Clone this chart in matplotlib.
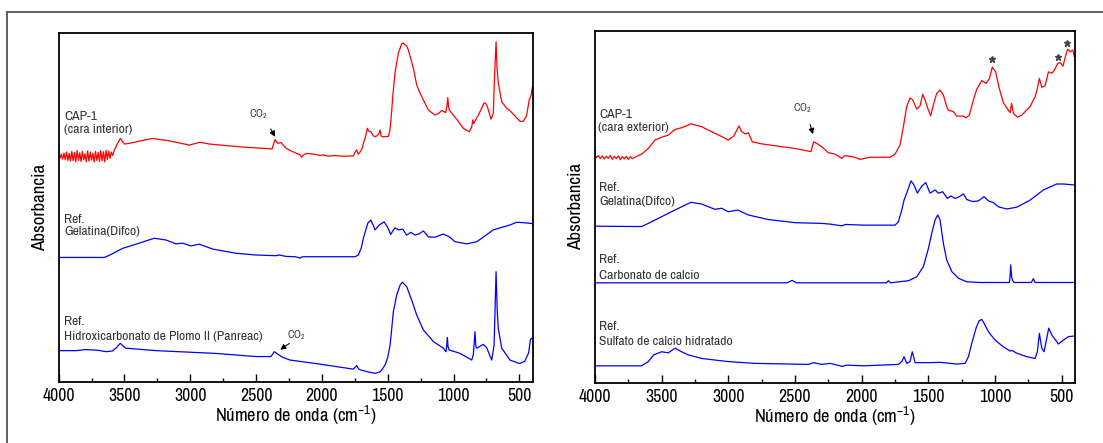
import numpy as np
import matplotlib
matplotlib.use('Agg')
import matplotlib.pyplot as plt
from matplotlib.ticker import MultipleLocator
from matplotlib.lines import Line2D

plt.rcParams['font.family'] = ['Archivo Narrow', 'DejaVu Sans']
plt.rcParams['mathtext.fontset'] = 'custom'
plt.rcParams['mathtext.rm'] = 'Archivo Narrow'

# espectros: (numero de onda, absorbancia relativa)
cap1_interior = [
    (4000, 0.678), (3996, 0.645),
    (3990, 0.640), (3980, 0.652), (3970, 0.638), (3960, 0.655), (3950, 0.636),
    (3940, 0.658), (3930, 0.634), (3920, 0.654), (3910, 0.632), (3900, 0.660),
    (3890, 0.633), (3880, 0.657), (3870, 0.630), (3860, 0.662), (3850, 0.634),
    (3840, 0.656), (3830, 0.631), (3820, 0.660), (3810, 0.636), (3800, 0.653),
    (3790, 0.630), (3780, 0.661), (3770, 0.632), (3760, 0.658), (3750, 0.635),
    (3740, 0.655), (3730, 0.629), (3720, 0.660), (3710, 0.634), (3700, 0.657),
    (3690, 0.631), (3680, 0.662), (3670, 0.633), (3660, 0.659), (3650, 0.630),
    (3640, 0.663), (3630, 0.636), (3620, 0.661), (3610, 0.640), (3600, 0.658),
    (3590, 0.648), (3577, 0.664), (3552, 0.683), (3532, 0.697), (3515, 0.688),
    (3501, 0.681), (3463, 0.683), (3380, 0.690), (3286, 0.697), (3160, 0.690),
    (3008, 0.678), (2926, 0.686), (2856, 0.681), (2628, 0.673), (2379, 0.667),
    (2356, 0.694), (2336, 0.683), (2311, 0.685), (2273, 0.669), (2240, 0.662),
    (2180, 0.652), (2166, 0.650), (2155, 0.643), (2140, 0.650), (2116, 0.654),
    (2060, 0.652), (2010, 0.648), (1989, 0.650), (1950, 0.646), (1900, 0.648),
    (1840, 0.646), (1761, 0.647), (1745, 0.660), (1736, 0.664), (1725, 0.652),
    (1710, 0.658), (1695, 0.668), (1685, 0.683), (1670, 0.700), (1655, 0.726),
    (1645, 0.718), (1629, 0.716), (1610, 0.705), (1597, 0.702), (1580, 0.705),
    (1565, 0.712), (1558, 0.721), (1552, 0.706), (1545, 0.702), (1520, 0.702),
    (1495, 0.703), (1483, 0.721), (1470, 0.775), (1462, 0.817), (1445, 0.884),
    (1420, 0.941), (1394, 0.968), (1381, 0.970), (1356, 0.962), (1343, 0.950),
    (1305, 0.898), (1280, 0.850), (1242, 0.817), (1191, 0.778), (1141, 0.764),
    (1110, 0.770), (1090, 0.777), (1060, 0.771), (1050, 0.790), (1044, 0.814),
    (1038, 0.790), (1032, 0.778), (976, 0.752), (926, 0.726), (880, 0.716),
    (862, 0.730), (854, 0.750), (848, 0.740), (844, 0.742), (811, 0.764),
    (768, 0.799), (755, 0.797), (743, 0.788), (715, 0.752), (698, 0.769),
    (688, 0.880), (677, 0.974), (670, 0.900), (660, 0.855), (634, 0.802),
    (600, 0.785), (570, 0.776), (530, 0.760), (495, 0.746), (470, 0.746),
    (445, 0.762), (425, 0.808), (410, 0.822), (400, 0.846),
]

gelatina_izq = [
    (4000, 0.356), (3653, 0.356), (3600, 0.365), (3514, 0.382), (3413, 0.394),
    (3274, 0.411), (3185, 0.406), (3109, 0.395), (3058, 0.397), (2995, 0.389),
    (2932, 0.394), (2830, 0.380), (2653, 0.368), (2501, 0.363), (2349, 0.361),
    (2324, 0.363), (2273, 0.359), (2200, 0.358), (2166, 0.354), (2150, 0.358),
    (1989, 0.358), (1749, 0.358), (1723, 0.363), (1700, 0.385), (1685, 0.411),
    (1652, 0.454), (1629, 0.463), (1610, 0.448), (1597, 0.435), (1580, 0.442),
    (1564, 0.449), (1528, 0.458), (1503, 0.444), (1477, 0.422), (1460, 0.433),
    (1445, 0.441), (1419, 0.435), (1386, 0.437), (1356, 0.420), (1325, 0.428),
    (1292, 0.420), (1260, 0.424), (1229, 0.432), (1191, 0.415), (1141, 0.414),
    (1078, 0.423), (1027, 0.414), (989, 0.401), (900, 0.395), (824, 0.401),
    (760, 0.418), (698, 0.435), (571, 0.449), (520, 0.457), (450, 0.455),
    (400, 0.453),
]

hidroxicarbonato = [
    (4000, 0.089), (3869, 0.089), (3800, 0.092), (3742, 0.091), (3700, 0.090),
    (3641, 0.086), (3590, 0.088), (3560, 0.098), (3532, 0.110), (3510, 0.102),
    (3489, 0.096), (3261, 0.089), (2805, 0.081), (2501, 0.072), (2387, 0.072),
    (2362, 0.086), (2336, 0.079), (2300, 0.070), (2242, 0.062), (2065, 0.053),
    (1761, 0.036), (1736, 0.046), (1720, 0.036), (1710, 0.034), (1650, 0.028),
    (1596, 0.024), (1560, 0.028), (1545, 0.034), (1520, 0.048), (1500, 0.070),
    (1482, 0.105), (1457, 0.201), (1432, 0.248), (1406, 0.277), (1389, 0.285),
    (1356, 0.272), (1318, 0.234), (1280, 0.191), (1229, 0.148), (1153, 0.115),
    (1078, 0.096), (1057, 0.086), (1050, 0.110), (1047, 0.126), (1042, 0.100),
    (1034, 0.091), (950, 0.081), (862, 0.062), (850, 0.077), (837, 0.143),
    (830, 0.100), (824, 0.096), (774, 0.107), (748, 0.097), (710, 0.062),
    (692, 0.105), (677, 0.315), (668, 0.200), (660, 0.153), (634, 0.096),
    (571, 0.062), (500, 0.052), (460, 0.058), (430, 0.082), (415, 0.122),
    (400, 0.125),
]

cap1_exterior = [
    (4000, 0.666), (3996, 0.645),
    (3990, 0.640), (3975, 0.646), (3960, 0.637), (3945, 0.645), (3930, 0.636),
    (3915, 0.644), (3900, 0.638), (3885, 0.646), (3870, 0.635), (3855, 0.644),
    (3840, 0.637), (3825, 0.645), (3810, 0.634), (3795, 0.643), (3780, 0.636),
    (3765, 0.644), (3750, 0.635), (3735, 0.643), (3720, 0.637), (3700, 0.641),
    (3680, 0.645), (3650, 0.650), (3600, 0.666), (3550, 0.690), (3500, 0.698),
    (3450, 0.704), (3400, 0.720), (3350, 0.725), (3280, 0.736), (3200, 0.728),
    (3100, 0.709), (3050, 0.700), (3000, 0.690), (2960, 0.701), (2920, 0.730),
    (2900, 0.714), (2870, 0.707), (2850, 0.711), (2820, 0.685), (2750, 0.679),
    (2500, 0.666), (2380, 0.657), (2360, 0.685), (2330, 0.679), (2300, 0.671),
    (2250, 0.654), (2200, 0.650), (2149, 0.638), (2130, 0.645), (2112, 0.645),
    (2050, 0.641), (2012, 0.635), (1937, 0.641), (1787, 0.641), (1749, 0.650),
    (1712, 0.676), (1687, 0.728), (1662, 0.785), (1637, 0.810), (1617, 0.804),
    (1587, 0.778), (1562, 0.787), (1542, 0.820), (1524, 0.804), (1504, 0.780),
    (1482, 0.759), (1462, 0.790), (1437, 0.823), (1412, 0.832), (1387, 0.818),
    (1362, 0.785), (1350, 0.775), (1312, 0.771), (1287, 0.758), (1237, 0.758),
    (1217, 0.753), (1192, 0.761), (1162, 0.804), (1137, 0.834), (1099, 0.859),
    (1067, 0.851), (1042, 0.865), (1020, 0.897), (995, 0.884), (968, 0.837),
    (937, 0.796), (900, 0.775), (887, 0.768), (875, 0.794), (862, 0.766),
    (832, 0.755), (799, 0.761), (737, 0.785), (699, 0.813), (682, 0.837),
    (667, 0.865), (649, 0.840), (624, 0.844), (599, 0.884), (574, 0.880),
    (557, 0.887), (529, 0.908), (510, 0.910), (490, 0.900), (472, 0.927),
    (455, 0.948), (435, 0.941), (417, 0.946), (405, 0.927), (400, 0.937),
]

gelatina_der = [
    (4000, 0.445), (3650, 0.444), (3600, 0.453), (3500, 0.472), (3400, 0.491),
    (3280, 0.513), (3200, 0.508), (3100, 0.493), (3050, 0.496), (3000, 0.486),
    (2930, 0.491), (2850, 0.477), (2700, 0.464), (2500, 0.455), (2300, 0.453),
    (2237, 0.451), (2149, 0.446), (2120, 0.450), (1987, 0.448), (1749, 0.448),
    (1724, 0.458), (1699, 0.491), (1682, 0.519), (1662, 0.539), (1630, 0.574),
    (1607, 0.562), (1582, 0.539), (1549, 0.559), (1519, 0.569), (1487, 0.539),
    (1449, 0.548), (1424, 0.539), (1392, 0.543), (1357, 0.524), (1332, 0.531),
    (1299, 0.524), (1267, 0.529), (1237, 0.537), (1212, 0.521), (1167, 0.515),
    (1124, 0.517), (1082, 0.529), (1049, 0.517), (1012, 0.512), (974, 0.500),
    (912, 0.494), (837, 0.499), (737, 0.519), (637, 0.548), (537, 0.565),
    (487, 0.565), (400, 0.562),
]

carbonato_calcio = [
    (4000, 0.284), (2560, 0.284), (2521, 0.291), (2490, 0.284), (1815, 0.284),
    (1799, 0.290), (1785, 0.284), (1649, 0.290), (1587, 0.301), (1537, 0.330),
    (1499, 0.382), (1474, 0.425), (1449, 0.463), (1429, 0.477), (1412, 0.463),
    (1387, 0.396), (1362, 0.349), (1324, 0.316), (1274, 0.297), (1212, 0.287),
    (1112, 0.285), (892, 0.285), (887, 0.300), (882, 0.335), (875, 0.300),
    (867, 0.290), (857, 0.285), (727, 0.285), (712, 0.296), (700, 0.285),
    (400, 0.285),
]

sulfato_calcio = [
    (4000, 0.048), (3650, 0.048), (3600, 0.060), (3560, 0.079), (3520, 0.085),
    (3500, 0.088), (3450, 0.085), (3400, 0.098), (3350, 0.088), (3300, 0.079),
    (3200, 0.069), (3000, 0.060), (2800, 0.055), (2400, 0.052), (2360, 0.057),
    (2300, 0.052), (2237, 0.055), (2160, 0.048), (2149, 0.046), (2112, 0.050),
    (1987, 0.048), (1724, 0.052), (1699, 0.060), (1682, 0.074), (1662, 0.055),
    (1637, 0.060), (1620, 0.088), (1599, 0.057), (1487, 0.057), (1412, 0.058),
    (1287, 0.053), (1224, 0.055), (1199, 0.074), (1174, 0.112), (1142, 0.155),
    (1119, 0.176), (1099, 0.180), (1082, 0.169), (1049, 0.145), (999, 0.121),
    (937, 0.102), (887, 0.090), (874, 0.092), (837, 0.084), (762, 0.074),
    (699, 0.069), (682, 0.088), (667, 0.140), (649, 0.098), (632, 0.088),
    (612, 0.126), (597, 0.155), (574, 0.136), (524, 0.110), (487, 0.121),
    (449, 0.131), (400, 0.133),
]

# picos marcados con asterisco en CAP-1 (cara exterior)
star_w = [1020, 524, 461]
star_a = [0.920, 0.925, 0.965]

xlabel = 'Número de onda (cm$^{\\mathregular{-1}}$)'
co2 = 'CO$_{\\mathregular{2}}$'
txt_color = '#333333'


def plot_spec(ax, pairs, color):
    arr = np.array(pairs)
    ax.plot(arr[:, 0], arr[:, 1], color=color, lw=0.9)


def style_axes(ax):
    ax.set_xlim(4000, 400)
    ax.set_ylim(0, 1)
    ax.set_yticks([])
    ax.xaxis.set_major_locator(MultipleLocator(500))
    ax.xaxis.set_minor_locator(MultipleLocator(250))
    ax.tick_params(axis='x', which='major', direction='in', length=6, width=1,
                   labelsize=12.8, pad=4.5, top=False)
    ax.tick_params(axis='x', which='minor', direction='in', length=3, width=1, top=False)
    for s in ax.spines.values():
        s.set_linewidth(1.3)
    ax.set_xlabel(xlabel, fontsize=13.3, va='center')
    ax.xaxis.set_label_coords(0.5, -0.097)
    ax.set_ylabel('Absorbancia', fontsize=13.6, va='center')
    ax.yaxis.set_label_coords(-0.039, 0.5)


fig = plt.figure(figsize=(11.03, 4.43), dpi=100)
ax1 = fig.add_axes([0.0532, 0.1384, 0.4296, 0.7878])
ax2 = fig.add_axes([0.5394, 0.1361, 0.4352, 0.7939])

# panel izquierdo
plot_spec(ax1, cap1_interior, 'red')
plot_spec(ax1, gelatina_izq, 'blue')
plot_spec(ax1, hidroxicarbonato, 'blue')
style_axes(ax1)

kw = dict(fontsize=9.8, color=txt_color, ha='left', va='center')
ax1.text(3956, 0.761, 'CAP-1', **kw)
ax1.text(3956, 0.723, '(cara interior)', **kw)
ax1.text(3956, 0.466, 'Ref.', **kw)
ax1.text(3956, 0.430, 'Gelatina(Difco)', **kw)
ax1.text(3956, 0.173, 'Ref.', **kw)
ax1.text(3956, 0.130, 'Hidroxicarbonato de Plomo II (Panreac)', **kw)

akw = dict(arrowstyle='-|>', color='black', lw=0.8, mutation_scale=8)
ax1.text(2552, 0.766, co2, fontsize=7.8, color=txt_color, ha='left', va='center')
ax1.annotate('', xy=(2345, 0.695), xytext=(2400, 0.731), arrowprops=akw)
ax1.text(2267, 0.134, co2, fontsize=7.8, color=txt_color, ha='left', va='center')
ax1.annotate('', xy=(2334, 0.087), xytext=(2231, 0.114), arrowprops=akw)

# panel derecho
plot_spec(ax2, cap1_exterior, 'red')
plot_spec(ax2, gelatina_der, 'blue')
plot_spec(ax2, carbonato_calcio, 'blue')
plot_spec(ax2, sulfato_calcio, 'blue')
style_axes(ax2)

ax2.text(3968, 0.763, 'CAP-1', **kw)
ax2.text(3975, 0.725, '(cara exterior)', **kw)
ax2.text(3968, 0.556, 'Ref.', **kw)
ax2.text(3968, 0.514, 'Gelatina(Difco)', **kw)
ax2.text(3968, 0.349, 'Ref.', **kw)
ax2.text(3968, 0.304, 'Carbonato de calcio', **kw)
ax2.text(3968, 0.161, 'Ref.', **kw)
ax2.text(3968, 0.117, 'Sulfato de calcio hidratado', **kw)

ax2.text(2512, 0.780, co2, fontsize=7.8, color=txt_color, ha='left', va='center')
ax2.annotate('', xy=(2359, 0.699), xytext=(2392, 0.742), arrowprops=akw)
ax2.plot(star_w, star_a, ls='none', marker='*', ms=5, color='#444444')

# marco exterior (solo izquierda y arriba)
x0 = 7.4 / 1103
y0 = 1 - 12 / 443
fig.add_artist(Line2D([x0, x0], [0, y0], transform=fig.transFigure, color='#555555', lw=1.3))
fig.add_artist(Line2D([x0, 1], [y0, y0], transform=fig.transFigure, color='#555555', lw=1.3))

fig.savefig('out.png', dpi=100)
